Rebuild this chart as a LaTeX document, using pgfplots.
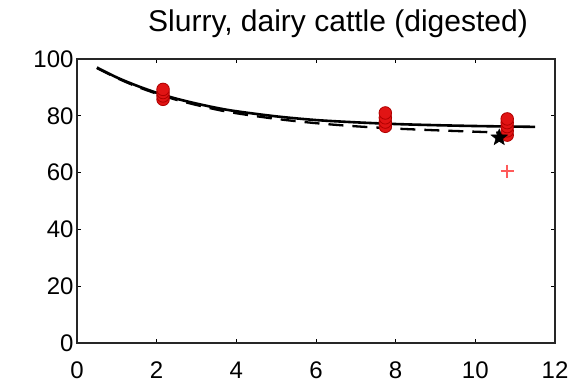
\documentclass[border=0pt]{standalone}
\usepackage{pgfplots}
\pgfplotsset{compat=1.18}
\usepackage{fontspec}
\setmainfont{Liberation Sans}
\usetikzlibrary{plotmarks}

\definecolor{ptred}{RGB}{225,20,20}
\definecolor{ptedge}{RGB}{175,0,0}
\definecolor{pluscol}{RGB}{255,90,90}

% filled five-pointed star
\pgfdeclareplotmark{fstar}{%
  \pgfpathmoveto{\pgfqpointpolar{90}{\pgfplotmarksize}}%
  \pgfpathlineto{\pgfqpointpolar{126}{0.42\pgfplotmarksize}}%
  \pgfpathlineto{\pgfqpointpolar{162}{\pgfplotmarksize}}%
  \pgfpathlineto{\pgfqpointpolar{198}{0.42\pgfplotmarksize}}%
  \pgfpathlineto{\pgfqpointpolar{234}{\pgfplotmarksize}}%
  \pgfpathlineto{\pgfqpointpolar{270}{0.42\pgfplotmarksize}}%
  \pgfpathlineto{\pgfqpointpolar{306}{\pgfplotmarksize}}%
  \pgfpathlineto{\pgfqpointpolar{342}{0.42\pgfplotmarksize}}%
  \pgfpathlineto{\pgfqpointpolar{18}{\pgfplotmarksize}}%
  \pgfpathlineto{\pgfqpointpolar{54}{0.42\pgfplotmarksize}}%
  \pgfpathclose
  \pgfusepathqfillstroke}

\begin{document}
\begin{tikzpicture}
\begin{axis}[
  scale only axis,
  width=478pt, height=284pt,
  xmin=0, xmax=12, ymin=0, ymax=100,
  xtick={0,2,...,12}, ytick={0,20,...,100},
  tick align=inside,
  major tick length=4pt,
  tick style={black, line width=0.8pt},
  axis line style={black!85, line width=1.2pt},
  ticklabel style={font=\fontsize{24}{24}\selectfont},
  xticklabel style={yshift=-15pt},
  /pgf/number format/assume math mode=true,
  title={Slurry, dairy cattle (digested)},
  title style={font=\fontsize{30}{30}\selectfont, at={(0.5,1)}, anchor=base,
    yshift=21pt, xshift=22pt},
  clip=false,
]
% fitted curve
\addplot[black, line width=2.6pt, smooth] coordinates {
  (0.5,97.0) (1,93.5) (1.5,90.6) (2,88.1) (2.5,86.0) (3,84.3) (3.5,82.8)
  (4,81.6) (5,79.8) (6,78.5) (7,77.7) (8,77.1) (9,76.7) (10,76.4)
  (11,76.2) (11.5,76.1)
};
% alternative fit
\addplot[black, line width=2.3pt, dash pattern=on 15pt off 9pt, smooth] coordinates {
  (0.5,96.8) (1,93.3) (1.5,90.3) (2,87.8) (2.5,85.6) (3,83.8) (3.5,82.2)
  (4,80.9) (5,78.9) (6,77.4) (7,76.3) (8,75.5) (9,74.9) (10,74.4) (10.6,74.1)
};
% measurements
\addplot[only marks, mark=*, mark size=6.3pt,
  mark options={fill=ptred, draw=ptedge, line width=0.8pt}] coordinates {
  (2.16,85.8) (2.16,87.0) (2.16,88.2) (2.16,89.3)
  (7.74,76.3) (7.74,77.8) (7.74,79.3) (7.74,81.0)
  (10.8,73.2) (10.8,74.7) (10.8,76.2) (10.8,77.6) (10.8,78.9)
};
% outlier
\addplot[only marks, mark=+, mark size=6.5pt,
  mark options={draw=pluscol, line width=2.2pt}] coordinates {(10.8,60.5)};
% reference value
\addplot[only marks, mark=fstar, mark size=8.5pt,
  mark options={draw=black, fill=black, line width=0.6pt}] coordinates {(10.6,72.3)};
\end{axis}
% fixed margins around the plot box
\path[use as bounding box] (-77pt,-36pt) rectangle (500pt,343pt);
\end{tikzpicture}
\end{document}
